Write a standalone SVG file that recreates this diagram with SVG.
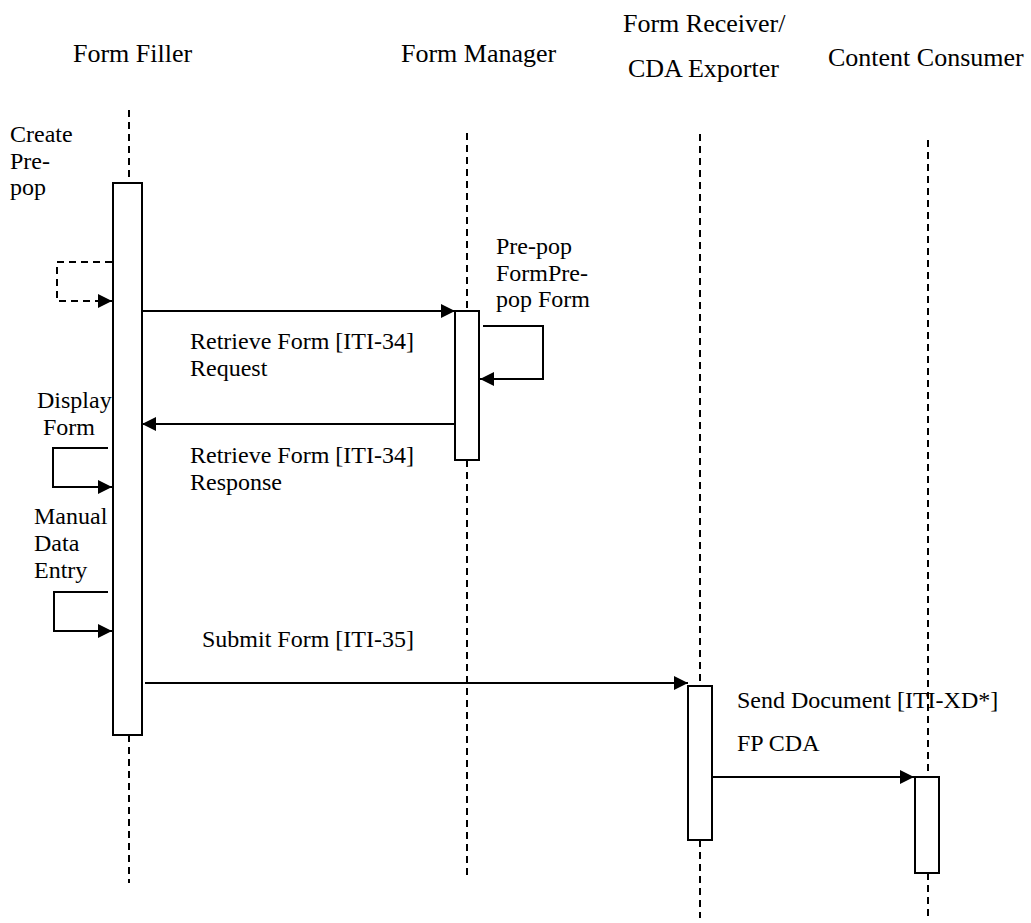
<svg xmlns="http://www.w3.org/2000/svg" width="1031" height="923" viewBox="0 0 1031 923">
<defs>
<style>
.hdr{font-family:"Liberation Serif","Times New Roman",serif;font-size:26px;fill:#000}
.lbl{font-family:"Liberation Serif","Times New Roman",serif;font-size:24px;fill:#000}
.life{stroke:#000;stroke-width:2;stroke-dasharray:7 5;fill:none}
.act{fill:#fff;stroke:#000;stroke-width:2}
.msg{stroke:#000;stroke-width:2;fill:none}
.dmsg{stroke:#000;stroke-width:2;fill:none;stroke-dasharray:7 5}
</style>
<marker id="ah" markerUnits="userSpaceOnUse" markerWidth="16" markerHeight="16" refX="15" refY="8" orient="auto">
<path d="M1,1 L15,8 L1,15 z" fill="#000"/>
</marker>
</defs>
<rect width="1031" height="923" fill="#fff"/>

<g id="form-filler">
<text class="hdr" x="73" y="62">Form Filler</text>
<line class="life" x1="129" y1="110" x2="129" y2="183"/>
<line class="life" x1="129" y1="735" x2="129" y2="883"/>
<rect class="act" x="113" y="183" width="29" height="552"/>
</g>

<g id="form-manager">
<text class="hdr" x="401" y="62">Form Manager</text>
<line class="life" x1="467" y1="133" x2="467" y2="311"/>
<line class="life" x1="467" y1="460" x2="467" y2="880"/>
<rect class="act" x="455" y="311" width="24" height="149"/>
</g>

<g id="form-receiver">
<text class="hdr" x="623" y="32">Form Receiver/</text>
<text class="hdr" x="628" y="77">CDA Exporter</text>
<line class="life" x1="700" y1="134" x2="700" y2="686"/>
<line class="life" x1="700" y1="840" x2="700" y2="918"/>
<rect class="act" x="688" y="686" width="24" height="154"/>
</g>

<g id="content-consumer">
<text class="hdr" x="828" y="66">Content Consumer</text>
<line class="life" x1="928" y1="140" x2="928" y2="777"/>
<line class="life" x1="928" y1="873" x2="928" y2="918"/>
<rect class="act" x="915" y="777" width="24" height="96"/>
</g>

<g id="connectors">
<!-- Create Pre-pop self loop -->
<polyline class="dmsg" points="112,262 57,262 57,301 112,301" marker-end="url(#ah)"/>
<!-- Retrieve Form Request -->
<line class="msg" x1="143" y1="311" x2="455" y2="311" marker-end="url(#ah)"/>
<!-- Pre-pop Form self loop -->
<polyline class="msg" points="483,326 543,326 543,379 480,379" marker-end="url(#ah)"/>
<!-- Retrieve Form Response -->
<line class="msg" x1="455" y1="424" x2="142" y2="424" marker-end="url(#ah)"/>
<!-- Display Form loop -->
<polyline class="msg" points="108,448 53,448 53,487 112,487" marker-end="url(#ah)"/>
<!-- Manual Data Entry loop -->
<polyline class="msg" points="108,592 54,592 54,631 112,631" marker-end="url(#ah)"/>
<!-- Submit Form -->
<line class="msg" x1="145" y1="683" x2="688" y2="683" marker-end="url(#ah)"/>
<!-- Send Document -->
<line class="msg" x1="713" y1="777" x2="914" y2="777" marker-end="url(#ah)"/>
</g>

<g id="labels">
<text class="lbl" x="10" y="142">Create</text>
<text class="lbl" x="10" y="169">Pre-</text>
<text class="lbl" x="10" y="195">pop</text>
<text class="lbl" x="496" y="254">Pre-pop</text>
<text class="lbl" x="496" y="281">FormPre-</text>
<text class="lbl" x="496" y="307">pop Form</text>
<text class="lbl" x="190" y="349">Retrieve Form [ITI-34]</text>
<text class="lbl" x="190" y="376">Request</text>
<text class="lbl" x="37" y="408">Display</text>
<text class="lbl" x="43" y="435">Form</text>
<text class="lbl" x="190" y="463">Retrieve Form [ITI-34]</text>
<text class="lbl" x="190" y="490">Response</text>
<text class="lbl" x="34" y="524">Manual</text>
<text class="lbl" x="34" y="551">Data</text>
<text class="lbl" x="34" y="578">Entry</text>
<text class="lbl" x="202" y="647">Submit Form [ITI-35]</text>
<text class="lbl" x="737" y="708">Send Document [ITI-XD*]</text>
<text class="lbl" x="737" y="751">FP CDA</text>
</g>
</svg>
